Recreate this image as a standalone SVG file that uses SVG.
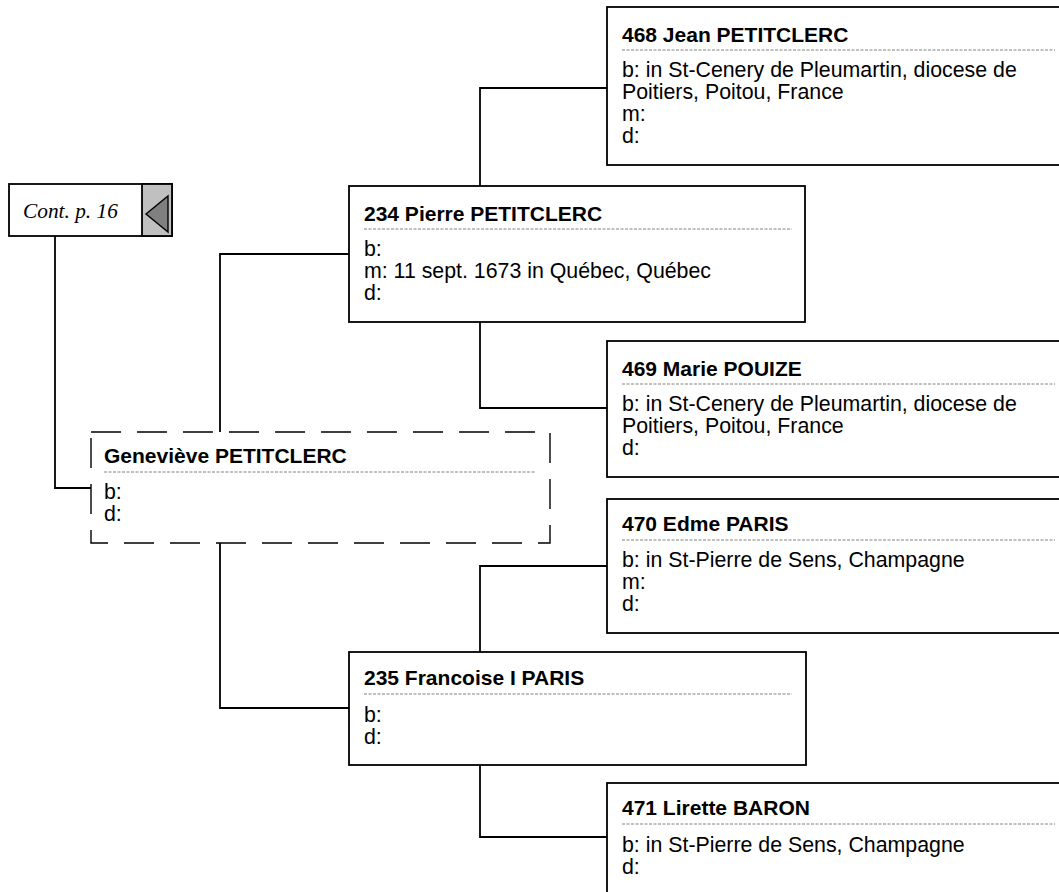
<svg xmlns="http://www.w3.org/2000/svg" width="1059" height="892" viewBox="0 0 1059 892">
<style>
.box{fill:#fff;stroke:#000;stroke-width:1.8}
.dbox{fill:#fff;stroke:#000;stroke-width:1.4;stroke-dasharray:30 16}
.sep{stroke:#808080;stroke-width:1;stroke-dasharray:3 1.5}
.nm{font-family:"Liberation Sans",Arial,sans-serif;font-weight:bold;font-size:21px;fill:#000}
.tx{font-family:"Liberation Sans",Arial,sans-serif;font-size:21.33px;fill:#000}
.con{fill:none;stroke:#000;stroke-width:1.8}
.cont{font-family:"Liberation Serif","Times New Roman",serif;font-style:italic;font-size:21.33px;fill:#000}
</style>
<rect width="1059" height="892" fill="#fff"/>
<g id="connectors">
<polyline class="con" points="55,236 55,488 91,488"/>
<polyline class="con" points="220,432 220,254 349,254"/>
<polyline class="con" points="220,543 220,708 349,708"/>
<polyline class="con" points="480,186 480,88 607,88"/>
<polyline class="con" points="480,322 480,408 607,408"/>
<polyline class="con" points="480,652 480,566 607,566"/>
<polyline class="con" points="480,765 480,837 607,837"/>
</g>
<g id="cont">
<rect class="box" x="9" y="184" width="163" height="52"/>
<rect x="142" y="184" width="30" height="52" fill="#c0c0c0" stroke="#000" stroke-width="1.8"/>
<polygon points="146,214 168,196 168,232" fill="#808080" stroke="#000" stroke-width="1.4"/>
<text class="cont" x="23" y="218">Cont. p. 16</text>
</g>
<g id="n468">
<rect class="box" x="607" y="7" width="470" height="158"/>
<text class="nm" x="622" y="42">468 Jean PETITCLERC</text>
<line class="sep" x1="622" y1="50" x2="1055" y2="50"/>
<text class="tx" x="622" y="77">b: in St-Cenery de Pleumartin, diocese de</text>
<text class="tx" x="622" y="99">Poitiers, Poitou, France</text>
<text class="tx" x="622" y="121">m:</text>
<text class="tx" x="622" y="143">d:</text>
</g>
<g id="n234">
<rect class="box" x="349" y="186" width="456" height="136"/>
<text class="nm" x="364" y="221">234 Pierre PETITCLERC</text>
<line class="sep" x1="364" y1="229" x2="792" y2="229"/>
<text class="tx" x="364" y="256">b:</text>
<text class="tx" x="364" y="278">m: 11 sept. 1673 in Québec, Québec</text>
<text class="tx" x="364" y="300">d:</text>
</g>
<g id="n469">
<rect class="box" x="607" y="341" width="470" height="136"/>
<text class="nm" x="622" y="376">469 Marie POUIZE</text>
<line class="sep" x1="622" y1="384" x2="1055" y2="384"/>
<text class="tx" x="622" y="411">b: in St-Cenery de Pleumartin, diocese de</text>
<text class="tx" x="622" y="433">Poitiers, Poitou, France</text>
<text class="tx" x="622" y="455">d:</text>
</g>
<g id="n_genevieve">
<rect class="dbox" x="91" y="432" width="459" height="111"/>
<text class="nm" x="104" y="463">Geneviève PETITCLERC</text>
<line class="sep" x1="104" y1="472" x2="536" y2="472"/>
<text class="tx" x="104" y="499">b:</text>
<text class="tx" x="104" y="521">d:</text>
</g>
<g id="n470">
<rect class="box" x="607" y="499" width="470" height="134"/>
<text class="nm" x="622" y="531">470 Edme PARIS</text>
<line class="sep" x1="622" y1="540" x2="1055" y2="540"/>
<text class="tx" x="622" y="567">b: in St-Pierre de Sens, Champagne</text>
<text class="tx" x="622" y="589">m:</text>
<text class="tx" x="622" y="611">d:</text>
</g>
<g id="n235">
<rect class="box" x="349" y="652" width="457" height="113"/>
<text class="nm" x="364" y="685">235 Francoise I PARIS</text>
<line class="sep" x1="364" y1="694" x2="792" y2="694"/>
<text class="tx" x="364" y="722">b:</text>
<text class="tx" x="364" y="744">d:</text>
</g>
<g id="n471">
<rect class="box" x="607" y="783" width="470" height="130"/>
<text class="nm" x="622" y="815">471 Lirette BARON</text>
<line class="sep" x1="622" y1="824" x2="1055" y2="824"/>
<text class="tx" x="622" y="852">b: in St-Pierre de Sens, Champagne</text>
<text class="tx" x="622" y="874">d:</text>
</g>
</svg>
